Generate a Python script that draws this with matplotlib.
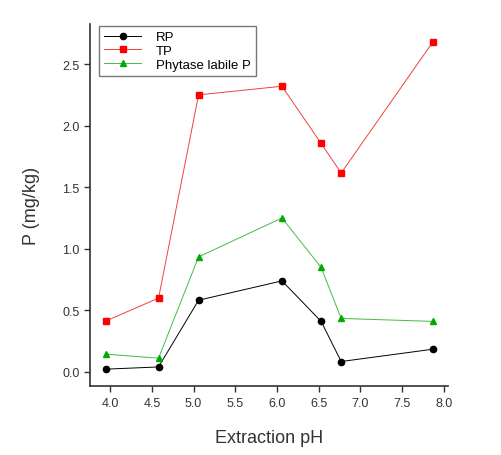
import matplotlib
matplotlib.use('Agg')
import matplotlib.pyplot as plt

ph = [3.95, 4.58, 5.06, 6.06, 6.53, 6.77, 7.87]
rp = [0.022, 0.04, 0.582, 0.739, 0.41, 0.084, 0.184]
tp = [0.414, 0.599, 2.25, 2.32, 1.855, 1.615, 2.68]
phytase = [0.144, 0.111, 0.934, 1.25, 0.848, 0.434, 0.41]

plt.rcParams['font.family'] = ['Liberation Sans', 'DejaVu Sans']

fig = plt.figure(figsize=(5.01, 4.56), dpi=100)
ax = fig.add_axes([0.18, 0.151, 0.714, 0.794])

ax.plot(ph, rp, color='black', lw=0.7, marker='o', ms=4.5, label='RP')
ax.plot(ph, tp, color='#f04040', lw=0.7, marker='s', ms=4.5,
	markerfacecolor='red', markeredgecolor='red', label='TP')
ax.plot(ph, phytase, color='#44bb44', lw=0.7, marker='^', ms=5,
	markerfacecolor='#00aa00', markeredgecolor='#00aa00', label='Phytase labile P')

ax.set_xlim(3.76, 8.05)
ax.set_ylim(-0.116, 2.825)
ax.set_xticks([4.0, 4.5, 5.0, 5.5, 6.0, 6.5, 7.0, 7.5, 8.0])
ax.set_yticks([0.0, 0.5, 1.0, 1.5, 2.0, 2.5])
ax.tick_params(labelsize=9, color='#333333', labelcolor='#333333', length=4, width=1)

for s in ['top', 'right']:
	ax.spines[s].set_visible(False)
for s in ['left', 'bottom']:
	ax.spines[s].set_linewidth(1.2)
	ax.spines[s].set_color('#333333')

ax.set_xlabel('Extraction pH', fontsize=13, color='#333333', labelpad=15)
ax.set_ylabel('P (mg/kg)', fontsize=13, color='#333333', labelpad=16)

leg = ax.legend(loc='upper left', bbox_to_anchor=(0.025, 0.995), fontsize=9.5,
	fancybox=False, frameon=True, handlelength=2.8, borderpad=0.4,
	labelspacing=0.1, handletextpad=1.1, borderaxespad=0)
leg.get_frame().set_edgecolor('#555555')
leg.get_frame().set_linewidth(1.0)

fig.savefig('out.png', dpi=100)
